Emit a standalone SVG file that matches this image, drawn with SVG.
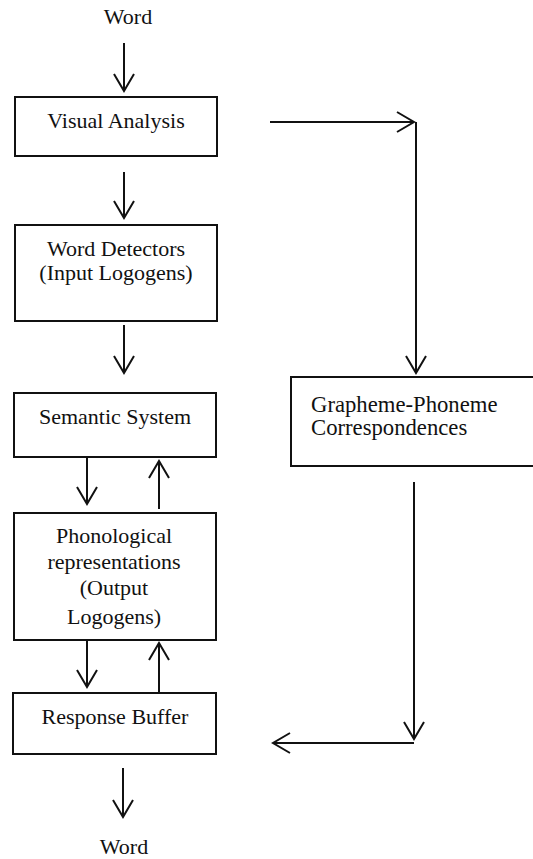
<svg xmlns="http://www.w3.org/2000/svg" width="533" height="859" viewBox="0 0 533 859">
<style>
.box{fill:#fff;stroke:#111;stroke-width:2}
.t{font-family:"Liberation Serif","Times New Roman",serif;font-size:22px;fill:#111}
.c{text-anchor:middle}
.ln{stroke:#111;stroke-width:2;fill:none}
</style>
<defs>
<marker id="ah" markerUnits="userSpaceOnUse" markerWidth="24" markerHeight="24" viewBox="-20 -12 22 24" refX="0" refY="0" orient="auto">
<path d="M-17,-10 L0,0 L-17,10" fill="none" stroke="#111" stroke-width="2"/>
</marker>
</defs>
<rect width="533" height="859" fill="#fff"/>
<g id="word-in"><text class="t c" x="128" y="24">Word</text></g>
<g id="visual-analysis"><rect class="box" x="15" y="97" width="202" height="59"/><text class="t c" x="116" y="128">Visual Analysis</text></g>
<g id="word-detectors"><rect class="box" x="15" y="225" width="202" height="96"/><text class="t c" x="116" y="256">Word Detectors</text><text class="t c" x="116" y="280">(Input Logogens)</text></g>
<g id="semantic-system"><rect class="box" x="14" y="393" width="202" height="64"/><text class="t c" x="115" y="424">Semantic System</text></g>
<g id="phonological"><rect class="box" x="14" y="513" width="202" height="127"/><text class="t c" x="114" y="543">Phonological</text><text class="t c" x="114" y="569">representations</text><text class="t c" x="114" y="595">(Output</text><text class="t c" x="114" y="624">Logogens)</text></g>
<g id="response-buffer"><rect class="box" x="13" y="693" width="203" height="61"/><text class="t c" x="115" y="724">Response Buffer</text></g>
<g id="gpc"><rect class="box" x="291" y="377" width="250" height="89"/><text class="t" x="311" y="412" style="font-size:22.7px">Grapheme-Phoneme</text><text class="t" x="311" y="435" style="font-size:22.7px">Correspondences</text></g>
<g id="word-out"><text class="t c" x="124" y="854">Word</text></g>
<g id="connectors">
<line class="ln" x1="124" y1="43" x2="124" y2="91" marker-end="url(#ah)"/>
<line class="ln" x1="124" y1="172" x2="124" y2="218" marker-end="url(#ah)"/>
<line class="ln" x1="124" y1="325" x2="124" y2="373" marker-end="url(#ah)"/>
<line class="ln" x1="87" y1="457" x2="87" y2="504" marker-end="url(#ah)"/>
<line class="ln" x1="159" y1="509" x2="159" y2="461" marker-end="url(#ah)"/>
<line class="ln" x1="87" y1="640" x2="87" y2="687" marker-end="url(#ah)"/>
<line class="ln" x1="159" y1="692" x2="159" y2="643" marker-end="url(#ah)"/>
<line class="ln" x1="123" y1="768" x2="123" y2="817" marker-end="url(#ah)"/>
<line class="ln" x1="270" y1="122" x2="414" y2="122" marker-end="url(#ah)"/>
<line class="ln" x1="416" y1="122" x2="416" y2="373" marker-end="url(#ah)"/>
<line class="ln" x1="414" y1="482" x2="414" y2="739" marker-end="url(#ah)"/>
<line class="ln" x1="414" y1="743" x2="273" y2="743" marker-end="url(#ah)"/>
</g>
</svg>
